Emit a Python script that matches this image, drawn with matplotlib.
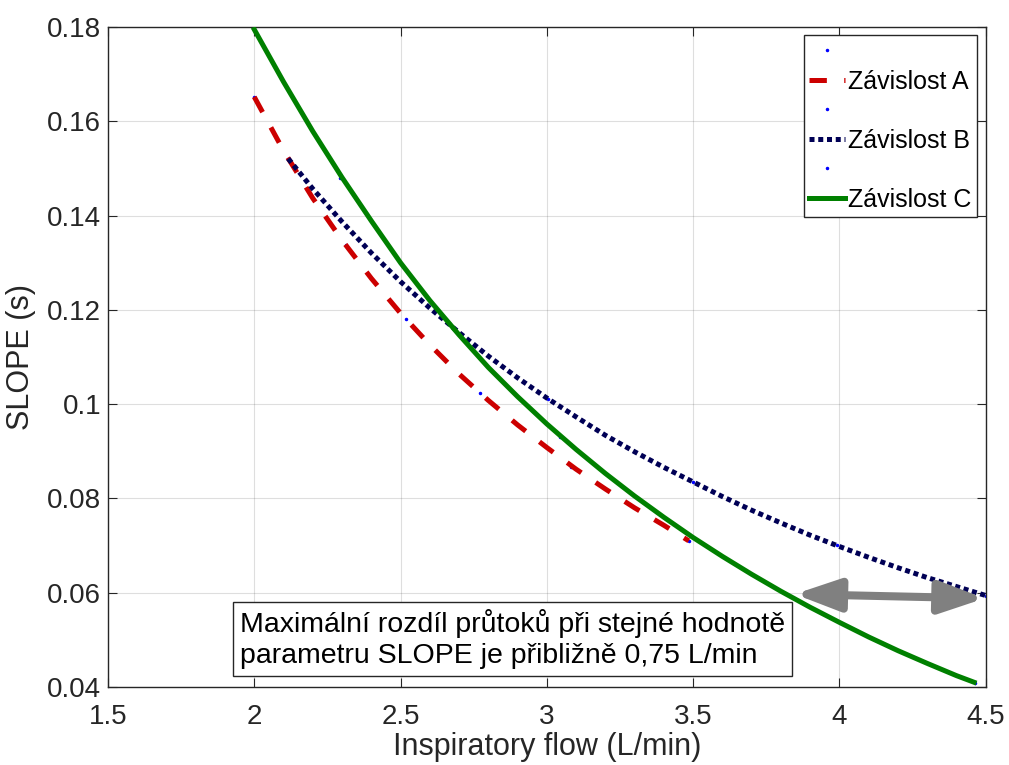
import matplotlib
matplotlib.use('Agg')
import matplotlib.pyplot as plt
from matplotlib.ticker import FuncFormatter

plt.rcParams['font.family'] = ['Liberation Sans', 'DejaVu Sans']
plt.rcParams['lines.scale_dashes'] = False

# Závislost A - fitted curve and measured points
flow_a = [2.0, 2.1, 2.2, 2.3, 2.4, 2.5, 2.6, 2.7, 2.8, 2.9, 3.0, 3.1, 3.2, 3.3, 3.4, 3.485]
slope_a = [0.1652, 0.1538, 0.1437, 0.1348, 0.1267, 0.1193, 0.1126, 0.1064, 0.1008, 0.0956,
           0.0908, 0.0862, 0.0820, 0.0780, 0.0743, 0.0710]
pts_a_x = [2.0, 2.116, 2.313, 2.52, 2.771, 3.084, 3.485]
pts_a_y = [0.1652, 0.1521, 0.1338, 0.118, 0.1023, 0.0867, 0.0710]

# Závislost B
flow_b = [2.116, 2.2, 2.3, 2.4, 2.5, 2.6, 2.7, 2.8, 2.9, 3.0, 3.1, 3.2, 3.3, 3.4, 3.5,
          3.6, 3.7, 3.8, 3.9, 4.0, 4.1, 4.2, 4.3, 4.4, 4.5]
slope_b = [0.1521, 0.1457, 0.1387, 0.1321, 0.1260, 0.1204, 0.1152, 0.1102, 0.1056, 0.1013,
           0.0973, 0.0934, 0.0899, 0.0866, 0.0835, 0.0804, 0.0775, 0.0748, 0.0722, 0.0698,
           0.0675, 0.0653, 0.0632, 0.0613, 0.0594]
pts_b_x = [2.116, 2.293, 2.665, 3.004, 3.5, 3.99, 4.5]
pts_b_y = [0.1521, 0.1392, 0.1171, 0.1012, 0.0835, 0.0701, 0.0594]

# Závislost C
flow_c = [2.0, 2.1, 2.2, 2.3, 2.4, 2.5, 2.6, 2.7, 2.8, 2.9, 3.0, 3.1, 3.2, 3.3, 3.4, 3.5,
          3.6, 3.7, 3.8, 3.9, 4.0, 4.1, 4.2, 4.3, 4.4, 4.46]
slope_c = [0.1795, 0.1684, 0.1579, 0.1481, 0.1389, 0.1300, 0.1220, 0.1147, 0.1078, 0.1016,
           0.0958, 0.0904, 0.0853, 0.0805, 0.0760, 0.0717, 0.0677, 0.0639, 0.0603, 0.0569,
           0.0537, 0.0506, 0.0477, 0.0450, 0.0424, 0.0410]
pts_c_x = [2.0, 2.293, 2.634, 3.044, 3.488, 3.967, 4.462]
pts_c_y = [0.1797, 0.1479, 0.1193, 0.0931, 0.0722, 0.0549, 0.0409]

labels = ['Závislost A', 'Závislost B', 'Závislost C']
note = 'Maximální rozdíl průtoků při stejné hodnotě\nparametru SLOPE je přibližně 0,75 L/min'

axis_col = '#262626'
red = '#CC0000'
navy = '#000055'
green = '#008000'
dot_blue = '#0000FF'

fig = plt.figure(figsize=(10.09, 7.65), dpi=100)
ax = fig.add_axes([0.107, 0.102, 0.870, 0.8625])

dot_kw = dict(ls='none', marker='.', ms=3, color=dot_blue, zorder=2)
d1, = ax.plot(pts_a_x, pts_a_y, **dot_kw)
la, = ax.plot(flow_a, slope_a, color=red, lw=3.6, dashes=(12.5, 12.5),
              dash_capstyle='butt', zorder=3)
d2, = ax.plot(pts_b_x, pts_b_y, **dot_kw)
lb, = ax.plot(flow_b, slope_b, color=navy, lw=3.6, dashes=(3.6, 2.7),
              dash_capstyle='butt', zorder=3)
d3, = ax.plot(pts_c_x, pts_c_y, **dot_kw)
lc, = ax.plot(flow_c, slope_c, color=green, lw=3.6, zorder=3)

ax.set_xlim(1.5, 4.5)
ax.set_ylim(0.04, 0.18)
ax.set_xticks([1.5, 2, 2.5, 3, 3.5, 4, 4.5])
ax.set_yticks([0.04, 0.06, 0.08, 0.1, 0.12, 0.14, 0.16, 0.18])
fmt = FuncFormatter(lambda v, p: f'{v:g}')
ax.xaxis.set_major_formatter(fmt)
ax.yaxis.set_major_formatter(fmt)
ax.tick_params(direction='in', length=6.5, width=0.8, colors=axis_col,
               labelsize=20, top=True, right=True)
ax.tick_params(axis='y', pad=5)
ax.tick_params(axis='x', pad=12)
ax.grid(True, color=axis_col, alpha=0.15, lw=0.8)
ax.set_axisbelow(True)
for s in ax.spines.values():
    s.set_color(axis_col)
    s.set_linewidth(1.0)

ax.set_xlabel('Inspiratory flow (L/min)', fontsize=22, color=axis_col, labelpad=2)
ax.set_ylabel('SLOPE (s)', fontsize=22, color=axis_col, labelpad=8)

leg = ax.legend([d1, la, d2, lb, d3, lc], ['', labels[0], '', labels[1], '', labels[2]],
                loc='upper right', bbox_to_anchor=(0.9897, 0.9879), borderaxespad=0,
                fontsize=18, handlelength=1.44, handletextpad=0.12, borderpad=0.2,
                labelspacing=0.22, fancybox=False, framealpha=1, edgecolor=axis_col)
leg.get_frame().set_linewidth(1.0)

# double arrow between curve C and the end of curve B
ax.annotate('', xy=(3.847, 0.0597), xytext=(4.496, 0.0588),
            arrowprops=dict(arrowstyle='<|-|>,head_length=27,head_width=9.7',
                            mutation_scale=1, lw=5.8, color='#808080',
                            shrinkA=0, shrinkB=0), zorder=5)

ax.text(0.1503, 0.027, note, transform=ax.transAxes, fontsize=20.5, ha='left', va='bottom',
        linespacing=1.26, color='black', zorder=4,
        bbox=dict(boxstyle='square,pad=0.25', fc='white', ec=axis_col, lw=1.0))

fig.savefig('out.png', dpi=100)
